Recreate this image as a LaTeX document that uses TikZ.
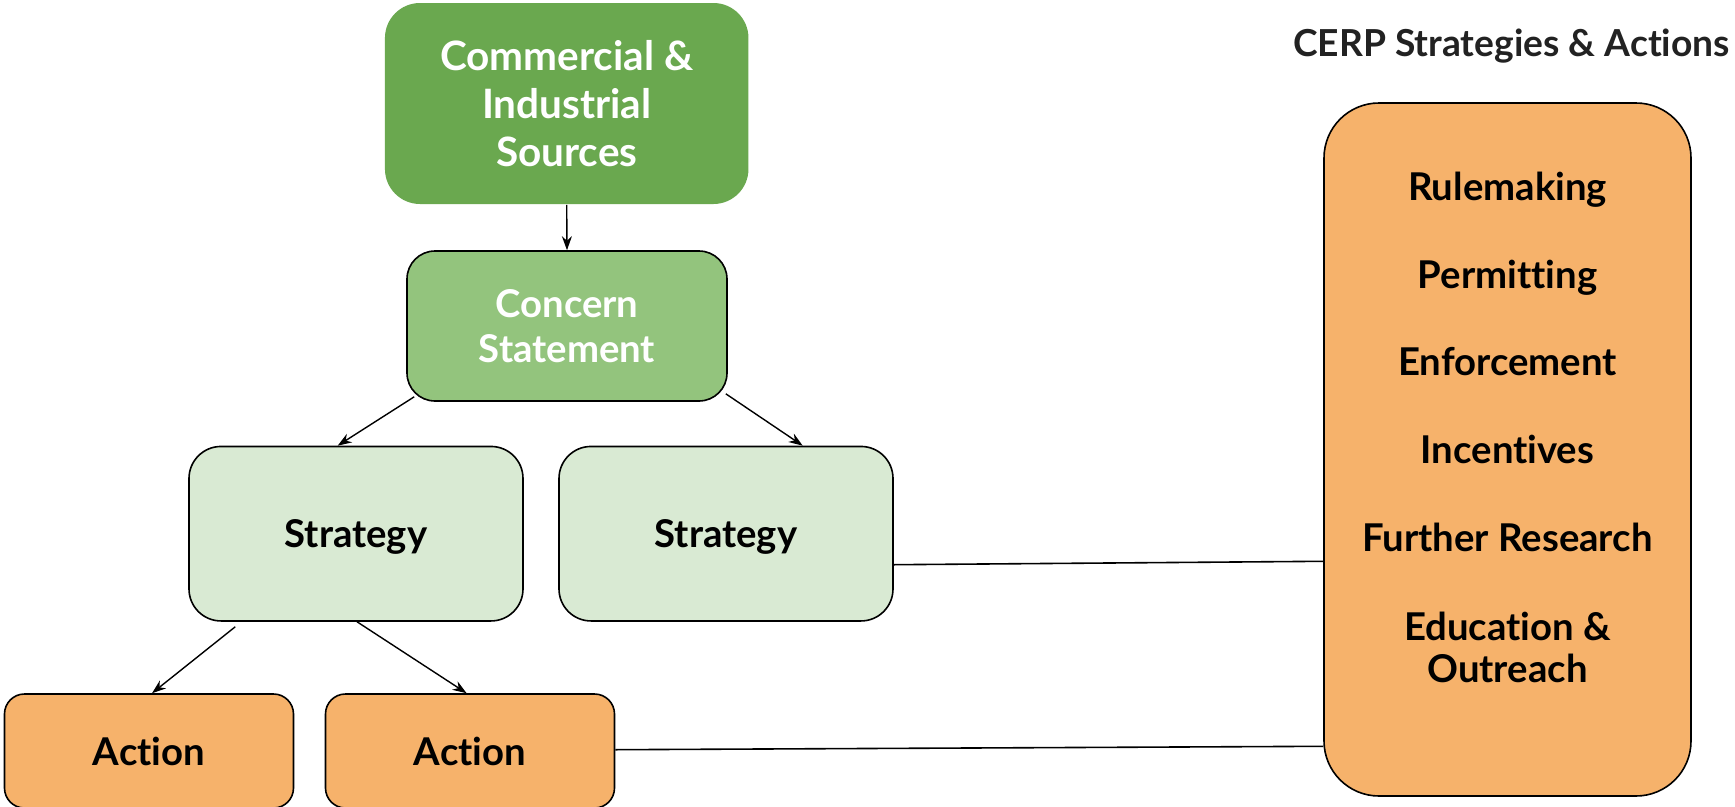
\documentclass[tikz,border=0pt]{standalone}
\usepackage{fontspec}
\setmainfont{Lato}[Ligatures=NoCommon]
\usetikzlibrary{arrows.meta}
\definecolor{cgreen}{HTML}{6AA84F}
\definecolor{cmid}{HTML}{93C47D}
\definecolor{clight}{HTML}{D9EAD3}
\definecolor{corange}{HTML}{F6B26B}
\definecolor{ctitle}{HTML}{222222}
\tikzset{
  box/.style={rectangle, draw=black, line width=1.6pt, align=center, inner sep=0pt,
    font=\fontsize{38.3}{47}\selectfont\bfseries},
  one/.style={text depth=0pt},
  lbl/.style={inner sep=0pt, anchor=base, font=\fontsize{38.3}{47}\selectfont\bfseries},
  arr/.style={line width=1.4pt, -{Stealth[length=14pt,width=10pt]}},
  conn/.style={line width=1.6pt},
}
\begin{document}
\begin{tikzpicture}[x=1pt,y=-1pt]
\useasboundingbox (0,0) rectangle (1735,806);
\fill[white] (0,0) rectangle (1735,806);

\node[box, draw=none, fill=cgreen, text=white, minimum width=363.5pt, minimum height=201pt,
  rounded corners=35pt, font=\fontsize{40.5}{48}\selectfont\bfseries]
  (src) at (566.7,103.5) {Commercial \&\\Industrial\\Sources};
\node[box, fill=cmid, text=white, minimum width=320pt, minimum height=150pt,
  rounded corners=28pt, font=\fontsize{38.3}{45}\selectfont\bfseries]
  (con) at (567,326) {Concern\\Statement};
\node[box, one, fill=clight, minimum width=334pt, minimum height=174.5pt, rounded corners=32pt]
  (s1) at (356,533.7) {Strategy};
\node[box, one, fill=clight, minimum width=334pt, minimum height=174.5pt, rounded corners=32pt]
  (s2) at (726,533.7) {Strategy};
\node[box, one, fill=corange, minimum width=289pt, minimum height=114pt, rounded corners=20pt]
  (a1) at (149,751) {Action};
\node[box, one, fill=corange, minimum width=289pt, minimum height=114pt, rounded corners=20pt]
  (a2) at (470,751) {Action};
\node[box, fill=corange, minimum width=367pt, minimum height=693pt, rounded corners=55pt]
  (big) at (1507.5,449.5) {};

\node[lbl, text=ctitle, font=\fontsize{37.2}{44}\selectfont\bfseries] (title) at (1511.5,56) {CERP Strategies \& Actions};
\node[lbl] (t1) at (1507.5,200) {Rulemaking};
\node[lbl] (t2) at (1507.5,288) {Permitting};
\node[lbl] (t3) at (1507.5,375) {Enforcement};
\node[lbl] (t4) at (1507.5,463) {Incentives};
\node[lbl] (t5) at (1507.5,551) {Further Research};
\node[lbl] (t6) at (1507.5,640) {Education \&};
\node[lbl] (t7) at (1507.5,682) {Outreach};

\draw[arr] (src.south) -- (con.north);
\draw[arr] ([xshift=8pt,yshift=5pt]con.south west) -- ([xshift=-18.3pt]s1.north);
\draw[arr] ([xshift=-2pt,yshift=8pt]con.south east) -- ([xshift=76.7pt]s2.north);
\draw[arr] ([xshift=-120.7pt,yshift=-5pt]s1.south) -- ([xshift=3pt]a1.north);
\draw[arr] ([xshift=1pt]s1.south) -- ([xshift=-3.4pt]a2.north);
\draw[conn] ([yshift=-31pt]s2.east) -- ([yshift=-111.8pt]big.west);
\draw[conn] ([yshift=1.3pt]a2.east) -- ([yshift=-296.8pt]big.west);
\end{tikzpicture}
\end{document}
